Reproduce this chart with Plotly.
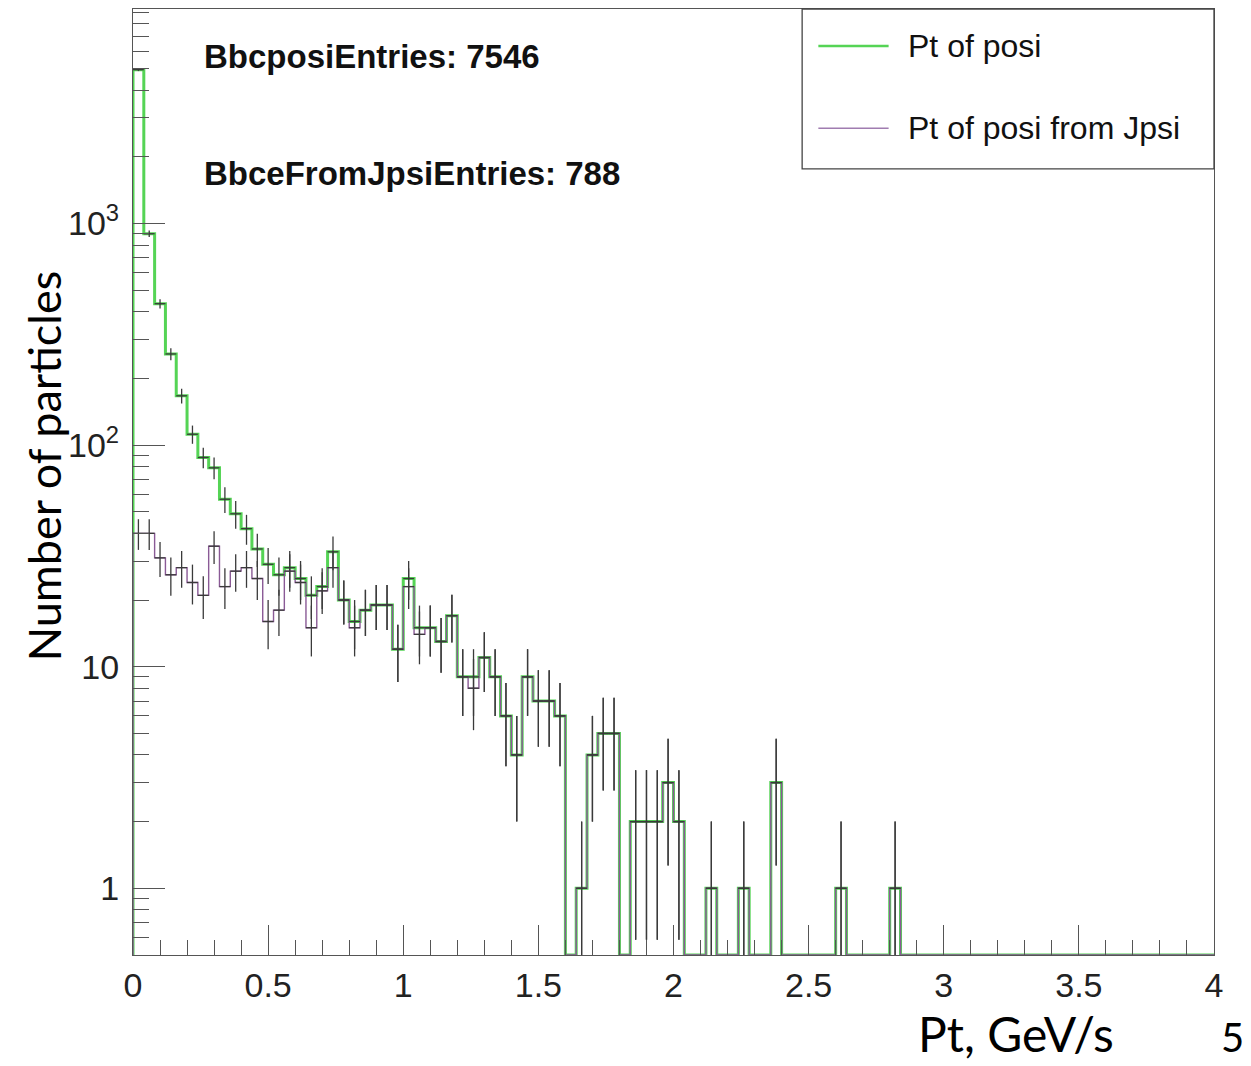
import numpy as np
import plotly.graph_objects as go

# Binning of both histograms: 100 bins, 0 - 4 GeV
x_min, x_max, n_bins = 0.0, 4.0, 100

# Bin contents (Pt of posi)
posi_counts = [
    4950, 900, 435, 258, 167, 112, 88, 79, 57, 49,
    42, 34, 29, 26, 28, 25, 21, 23, 33, 20,
    16, 18, 19, 19, 12, 25, 15, 15, 13, 17,
    9, 9, 11, 9, 6, 4, 9, 7, 7, 6,
    0, 1, 4, 5, 5, 0, 2, 2, 2, 3,
    2, 0, 0, 1, 0, 0, 1, 0, 0, 3,
    0, 0, 0, 0, 0, 1, 0, 0, 0, 0,
    1, 0, 0, 0, 0, 0, 0, 0, 0, 0,
    0, 0, 0, 0, 0, 0, 0, 0, 0, 0,
    0, 0, 0, 0, 0, 0, 0, 0, 0, 0,
]

# Pt of posi from Jpsi
jpsi_counts = [
    40, 40, 31, 26, 28, 24, 21, 35, 23, 27,
    28, 25, 16, 18, 27, 24, 15, 22, 28, 20,
    15, 18, 19, 19, 12, 23, 14, 15, 13, 17,
    9, 8, 11, 9, 6, 4, 9, 7, 7, 6,
    0, 1, 4, 5, 5, 0, 2, 2, 2, 3,
    2, 0, 0, 1, 0, 0, 1, 0, 0, 3,
    0, 0, 0, 0, 0, 1, 0, 0, 0, 0,
    1, 0, 0, 0, 0, 0, 0, 0, 0, 0,
    0, 0, 0, 0, 0, 0, 0, 0, 0, 0,
    0, 0, 0, 0, 0, 0, 0, 0, 0, 0,
]

series_names = ["Pt of posi", "Pt of posi from Jpsi"]
stats_text = ["BbcposiEntries: 7546", "BbceFromJpsiEntries: 788"]

y_min, y_max = 0.5, 9300
green = "#55d455"
purple = "#8a5a96"
dark = "#3a3a3a"
frame = "#555555"

edges = np.linspace(x_min, x_max, n_bins + 1)
centers = 0.5 * (edges[:-1] + edges[1:])


def step_trace(counts, color, width):
    c = np.array(counts, dtype=float)
    c = np.where(c > 0, c, y_min)  # empty bins sit on the frame, like ROOT
    xs = [edges[0]] + list(edges[:-1]) + [edges[-1], edges[-1]]
    ys = [y_min] + list(c) + [c[-1], y_min]
    return go.Scatter(x=xs, y=ys, mode="lines", line_shape="hv",
                      line=dict(color=color, width=width), hoverinfo="skip")


def error_trace(counts):
    # ROOT "E" style crosses: bin-wide bar at N, vertical bar N +- sqrt(N)
    xs, ys = [], []
    for lo, hi, xc, n in zip(edges[:-1], edges[1:], centers, counts):
        if n <= 0:
            continue
        e = np.sqrt(n)
        xs += [lo, hi, None, xc, xc, None]
        ys += [n, n, None, max(n - e, y_min * 0.9), n + e, None]
    return go.Scatter(x=xs, y=ys, mode="lines", line=dict(color=dark, width=1.3),
                      hoverinfo="skip")


fig = go.Figure()
fig.add_trace(step_trace(posi_counts, green, 3))
fig.add_trace(step_trace(jpsi_counts, purple, 1.4))
fig.add_trace(error_trace(posi_counts))
fig.add_trace(error_trace(jpsi_counts))

# Axes, ROOT style frame
tick_font = dict(family="Liberation Sans", size=34, color="#222")
fig.update_xaxes(range=[x_min, x_max], showgrid=False, zeroline=False,
                 showline=True, mirror=True, linecolor=frame, linewidth=1.3,
                 ticks="inside", ticklen=30, tickcolor=frame, tickwidth=1.3,
                 tickvals=[0, 0.5, 1, 1.5, 2, 2.5, 3, 3.5, 4],
                 ticktext=["0", "0.5", "1", "1.5", "2", "2.5", "3", "3.5", "4"],
                 minor=dict(ticks="inside", ticklen=15, dtick=0.1, tickcolor=frame, tickwidth=1.3),
                 tickfont=tick_font, ticklabelstandoff=0)

minor_y = [m * 10 ** d for d in range(-1, 4) for m in range(2, 10)]
fig.update_yaxes(type="log", range=[np.log10(y_min), np.log10(y_max)], showgrid=False,
                 zeroline=False, showline=True, mirror=True, linecolor=frame, linewidth=1.3,
                 ticks="inside", ticklen=32, tickcolor=frame, tickwidth=1.3,
                 tickvals=[1, 10, 100, 1000],
                 ticktext=["1", "10", "10<sup>2</sup>", "10<sup>3</sup>"],
                 minor=dict(ticks="inside", ticklen=16, tickvals=minor_y, tickcolor=frame, tickwidth=1.3),
                 tickfont=tick_font, ticklabelstandoff=6)

# Legend box
fig.add_shape(type="rect", xref="paper", yref="paper", x0=0.619, x1=1.0, y0=0.831, y1=1.0,
              line=dict(color="#444", width=1.3), fillcolor="white", layer="above")
for yp, col, w, name in zip([0.961, 0.874], [green, "#a07cb0"], [2.5, 1.5], series_names):
    fig.add_shape(type="line", xref="paper", yref="paper", x0=0.634, x1=0.699, y0=yp, y1=yp,
                  line=dict(color=col, width=w))
    fig.add_annotation(xref="paper", yref="paper", x=0.715, y=yp, text=name, showarrow=False,
                       xanchor="left", yanchor="middle",
                       font=dict(family="Liberation Sans", size=32, color="#111"))

# Entries labels
for yp, txt in zip([0.950, 0.826], stats_text):
    fig.add_annotation(xref="paper", yref="paper", x=0.064, y=yp, text="<b>" + txt + "</b>",
                       showarrow=False, xanchor="left", yanchor="middle",
                       font=dict(family="Liberation Sans", size=33, color="#111"))

# Axis titles
fig.add_annotation(xref="paper", yref="paper", x=-0.082, y=0.517, text="Number of particles",
                   textangle=-90, showarrow=False, xanchor="center", yanchor="middle",
                   font=dict(family="Lato", size=45, color="#000"))
fig.add_annotation(xref="paper", yref="paper", x=0.817, y=-0.083, text="Pt, GeV/s",
                   showarrow=False, xanchor="center", yanchor="middle",
                   font=dict(family="Lato", size=48, color="#000"))
fig.add_annotation(xref="paper", yref="paper", x=1.03, y=-0.087, text="5",
                   showarrow=False, xanchor="right", yanchor="middle",
                   font=dict(family="Lato", size=40, color="#000"))

# the page adds an 8px margin around the figure
fig.update_layout(width=1243, height=1059, showlegend=False,
                  plot_bgcolor="white", paper_bgcolor="white",
                  margin=dict(l=125, r=37, t=1, b=112))

fig.write_html("out.html")
